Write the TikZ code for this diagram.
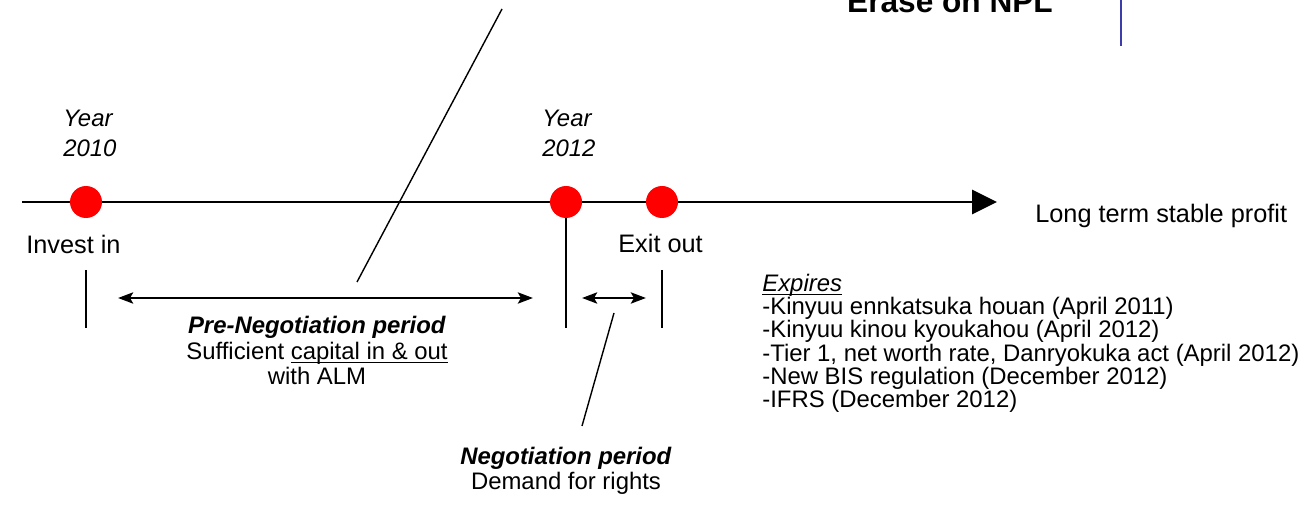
\documentclass[tikz,border=0pt]{standalone}
\usepackage{fontspec}
\setmainfont{Liberation Sans}
\usetikzlibrary{arrows.meta}

% underline set close to the baseline
\newcommand{\ulbox}[1]{\setbox0\hbox{#1}\rlap{\rule[-2pt]{\wd0}{0.6pt}}\box0}

\tikzset{
  txt/.style={font=\fontsize{13.6}{14.7}\selectfont, inner sep=0pt},
  bigtxt/.style={font=\fontsize{14.4}{15.5}\selectfont, inner sep=0pt, anchor=base west},
  yearlbl/.style={font=\fontsize{13.6}{17.6}\selectfont\itshape, inner sep=0pt, align=left, anchor=base west},
  reddot/.style={circle, fill=red, minimum size=0.64cm, inner sep=0pt},
  tick/.style={line width=0.9pt},
  span/.style={line width=1.7pt, {Stealth[length=0.3cm,width=0.22cm,inset=0.06cm]}-{Stealth[length=0.3cm,width=0.22cm,inset=0.06cm]}},
  leader/.style={line width=0.8pt},
}

\begin{document}
\begin{tikzpicture}[x=0.02cm, y=-0.02cm]
\useasboundingbox (0,0) rectangle (1315,509);
\clip (0,0) rectangle (1315,509);

% title, cut by the top edge
\node[font=\fontsize{18}{20}\selectfont\bfseries, inner sep=0pt, anchor=base] (npl) at (950,13) {Erase on NPL};
\coordinate (bluetop) at (1121,0);
\coordinate (bluebot) at (1121,46);
\draw[line width=1.1pt, color={rgb,255:red,60;green,60;blue,170}] (bluetop) -- (bluebot);

% time line
\coordinate (tstart) at (22,202);
\coordinate (tend) at (997,202);
\draw[line width=1.7pt, -{Triangle[length=0.5cm,width=0.48cm]}] (tstart) -- (tend);
\node[bigtxt] (profit) at (1035,223) {Long term stable profit};

% ticks under the dots
\coordinate (t2010a) at (86,270);
\coordinate (t2010b) at (86,328);
\coordinate (t2012) at (566,328);
\coordinate (texita) at (662,270);
\coordinate (texitb) at (662,328);
\draw[tick] (t2010a) -- (t2010b);
\draw[tick] (566,202) -- (t2012);
\draw[tick] (texita) -- (texitb);

\node[reddot] (dot2010) at (86,202) {};
\node[reddot] (dot2012) at (566,202) {};
\node[reddot] (dotexit) at (662,202) {};

\node[yearlbl] (y2010) at (63,157) {Year\\2010};
\node[yearlbl] (y2012) at (542,157) {Year\\2012};
\node[bigtxt] (invest) at (26,254) {Invest in};
\node[bigtxt] (exit) at (618,253) {Exit out};

% periods
\coordinate (preL) at (118,298);
\coordinate (preR) at (533,298);
\coordinate (negL) at (582,298);
\coordinate (negR) at (646,298);
\draw[span] (preL) -- (preR);
\draw[span] (negL) -- (negR);

\node[txt, align=center, anchor=base] (prelbl) at (317,385)
  {\textbf{\textit{Pre-Negotiation period}}\\Sufficient \ulbox{capital in \& out}\\with ALM};
\node[txt, align=center, anchor=base] (neglbl) at (566,490)
  {\textbf{\textit{Negotiation period}}\\Demand for rights};

\coordinate (lead1a) at (502,9);
\coordinate (lead1b) at (357,282);
\coordinate (lead2a) at (614,313);
\coordinate (lead2b) at (582,426);
\draw[leader] (lead1a) -- (lead1b);
\draw[leader] (lead2a) -- (lead2b);

% expiry list
\node[font=\fontsize{13.6}{13.3}\selectfont, inner sep=0pt, align=left, anchor=base west] (expires) at (762,408)
  {\ulbox{\itshape Expires}\\
   -Kinyuu ennkatsuka houan (April 2011)\\
   -Kinyuu kinou kyoukahou (April 2012)\\
   -Tier 1, net worth rate, Danryokuka act (April 2012)\\
   -New BIS regulation (December 2012)\\
   -IFRS (December 2012)};
\end{tikzpicture}
\end{document}
